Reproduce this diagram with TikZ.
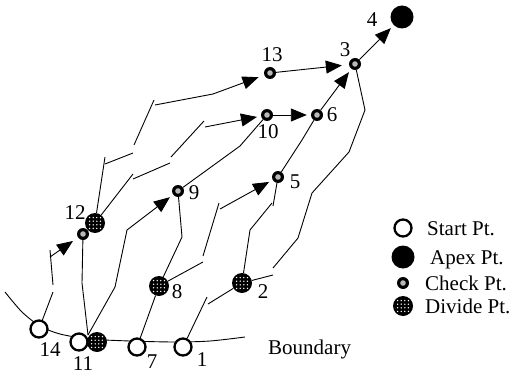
\documentclass[tikz,border=0pt]{standalone}
\usepackage{fontspec}
\setmainfont{Liberation Serif}
\usetikzlibrary{arrows.meta}
\begin{document}
\begin{tikzpicture}[x=1pt,y=-1pt,
  font=\fontsize{21}{25}\selectfont,
  flow/.style={line width=0.9pt},
  arr/.style={flow,-{Triangle[length=16pt,width=13pt]},shorten >=4pt},
  startpt/.style={circle,draw,line width=2.3pt,fill=white,minimum size=17pt,inner sep=0pt},
  apexpt/.style={circle,fill=black,minimum size=23pt,inner sep=0pt},
  checkpt/.style={circle,fill=black,minimum size=12pt,inner sep=0pt,
    path picture={\fill[gray!55] (path picture bounding box.center) circle[radius=2.8pt];}},
  dividept/.style={circle,fill=black,minimum size=20pt,inner sep=0pt,
    path picture={\foreach \i in {-1.5,-0.5,0.5,1.5}{\foreach \j in {-1.5,-0.5,0.5,1.5}{
      \fill[white] ([shift={(\i*3.6pt,\j*3.6pt)}]path picture bounding box.center) circle[radius=0.75pt];}}}},
  lbl/.style={inner sep=0pt},
  keytxt/.style={inner sep=0pt,anchor=base west}
]
\useasboundingbox (0,0) rectangle (518,374);

% boundary line
\draw[flow] plot[smooth] coordinates {(5,292) (22,312) (40,326) (60,334) (90,339) (130,341) (175,342) (210,341) (245,337)};

% points
\node[startpt] (s14) at (39,329) {};
\node[startpt] (s11) at (79,342) {};
\node[dividept] (d11) at (97,342) {};
\node[startpt] (s7) at (137,347) {};
\node[startpt] (s1) at (183,347) {};
\node[dividept] (d8) at (159,286) {};
\node[dividept] (d2) at (242,283) {};
\node[dividept] (d12) at (95,223) {};
\node[checkpt] (c12) at (83,234) {};
\node[checkpt] (c9) at (178,191) {};
\node[checkpt] (c5) at (278,177) {};
\node[checkpt] (c10) at (267,115) {};
\node[checkpt] (c6) at (317,115) {};
\node[checkpt] (c13) at (270,73) {};
\node[checkpt] (c3) at (355,64) {};
\node[apexpt] (a4) at (402,17) {};
\coordinate (j11) at (88,335);

% labels
\node[lbl] (l14) at (50,350) {14};
\node[lbl] (l11) at (83,363.5) {11};
\node[lbl] (l7) at (152,362) {7};
\node[lbl] (l1) at (202,360) {1};
\node[lbl] (l8) at (177,292) {8};
\node[lbl] (l2) at (263,292) {2};
\node[lbl] (l12) at (75,213) {12};
\node[lbl] (l9) at (194,193) {9};
\node[lbl] (l5) at (295,182) {5};
\node[lbl] (l10) at (268,132) {10};
\node[lbl] (l6) at (332,115) {6};
\node[lbl] (l13) at (272,55) {13};
\node[lbl] (l3) at (345,50) {3};
\node[lbl] (l4) at (372,20) {4};
\node[keytxt] (lb) at (268,354.5) {Boundary};

% flow paths
\draw[flow] (s14) -- (53,292);
\draw[flow] (53,285) -- (50,250);
\draw[arr,shorten >=6pt] (50,257) -- (c12);
\draw[flow] (j11) -- (82,283) -- (c12);
\draw[arr] (j11) -- (115,287) -- (127,230) -- (c9);

\draw[flow] (d12) -- (105,157);
\draw[flow] (105,164) -- (133,153);
\draw[flow] (134,145) -- (154,100);
\draw[arr,shorten >=6pt] (155,105) -- (213,94) -- (c13);

\draw[flow] (d12) -- (133,174);
\draw[flow] (133,179) -- (170,163);
\draw[flow] (171,157) -- (204,121);
\draw[arr] (205,127) -- (c10);

\draw[flow] (c9) -- (240,146) -- (c10);
\draw[arr] (c10) -- (c6);
\draw[arr] (c6) -- (c3);
\draw[arr,shorten >=7pt] (c13) -- (c3);
\draw[arr] (c3) -- (a4);

\draw[flow] (c3) -- (365,110) -- (349,152) -- (312,193) -- (298,238) -- (273,268);
\draw[flow] (d2) -- (273,275);
\draw[flow] (d2) -- (250,230) -- (272,203);
\draw[flow] (c5) -- (273,206);
\draw[flow] (c5) -- (302,140) -- (c6);
\draw[flow] (d2) -- (208,304);
\draw[flow] (s1) -- (207,297);
\draw[flow] (s7) -- (d8);
\draw[flow] (d8) -- (182,237) -- (c9);
\draw[flow] (d8) -- (203,262);
\draw[flow] (203,256) -- (219,203);
\draw[arr] (220,209) -- (c5);

% key
\node[startpt] (ks) at (403,228) {};
\node[keytxt] (kst) at (427,235.5) {Start Pt.};
\node[apexpt] (ka) at (403,257) {};
\node[keytxt] (kat) at (430,264.5) {Apex Pt.};
\node[checkpt] (kc) at (403,283) {};
\node[keytxt] (kct) at (425,290.5) {Check Pt.};
\node[dividept] (kd) at (403,306) {};
\node[keytxt] (kdt) at (425,313.5) {Divide Pt.};
\end{tikzpicture}
\end{document}
